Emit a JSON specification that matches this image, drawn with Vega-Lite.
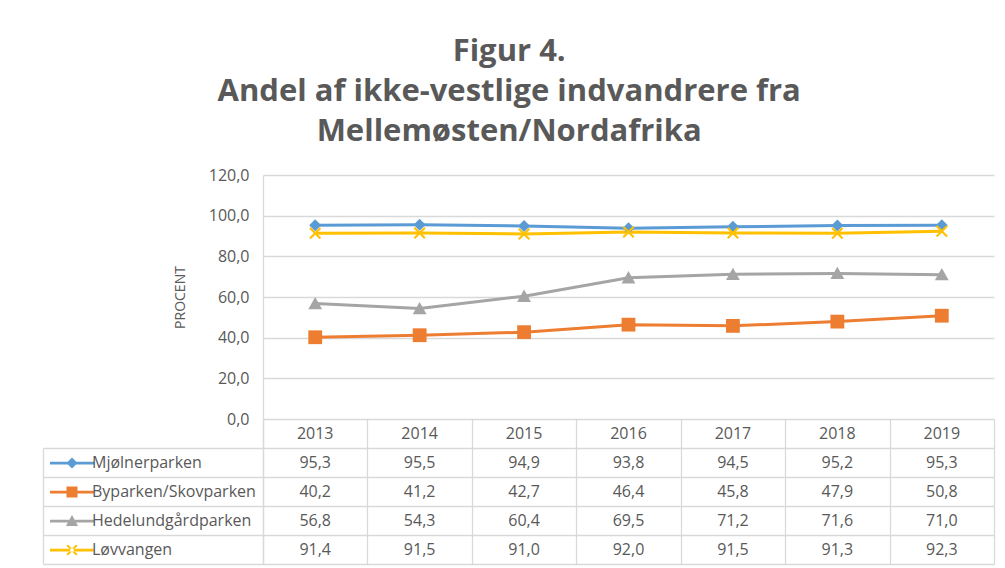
{
  "$schema": "https://vega.github.io/schema/vega-lite/v6.json",
  "background": "white",
  "padding": {"left": 42, "top": 36, "right": 12, "bottom": 5},
  "title": {
    "text": ["Figur 4.", "Andel af ikke-vestlige indvandrere fra", "Mellemøsten/Nordafrika"],
    "font": "Open Sans",
    "fontSize": 31,
    "fontWeight": "bold",
    "color": "#595959",
    "lineHeight": 40,
    "anchor": "middle",
    "frame": "bounds",
    "offset": 19,
    "dx": -9
  },
  "datasets": {
    "rates": [
      {"series": "Mjølnerparken", "year": "2013", "value": 95.3},
      {"series": "Mjølnerparken", "year": "2014", "value": 95.5},
      {"series": "Mjølnerparken", "year": "2015", "value": 94.9},
      {"series": "Mjølnerparken", "year": "2016", "value": 93.8},
      {"series": "Mjølnerparken", "year": "2017", "value": 94.5},
      {"series": "Mjølnerparken", "year": "2018", "value": 95.2},
      {"series": "Mjølnerparken", "year": "2019", "value": 95.3},
      {"series": "Byparken/Skovparken", "year": "2013", "value": 40.2},
      {"series": "Byparken/Skovparken", "year": "2014", "value": 41.2},
      {"series": "Byparken/Skovparken", "year": "2015", "value": 42.7},
      {"series": "Byparken/Skovparken", "year": "2016", "value": 46.4},
      {"series": "Byparken/Skovparken", "year": "2017", "value": 45.8},
      {"series": "Byparken/Skovparken", "year": "2018", "value": 47.9},
      {"series": "Byparken/Skovparken", "year": "2019", "value": 50.8},
      {"series": "Hedelundgårdparken", "year": "2013", "value": 56.8},
      {"series": "Hedelundgårdparken", "year": "2014", "value": 54.3},
      {"series": "Hedelundgårdparken", "year": "2015", "value": 60.4},
      {"series": "Hedelundgårdparken", "year": "2016", "value": 69.5},
      {"series": "Hedelundgårdparken", "year": "2017", "value": 71.2},
      {"series": "Hedelundgårdparken", "year": "2018", "value": 71.6},
      {"series": "Hedelundgårdparken", "year": "2019", "value": 71.0},
      {"series": "Løvvangen", "year": "2013", "value": 91.4},
      {"series": "Løvvangen", "year": "2014", "value": 91.5},
      {"series": "Løvvangen", "year": "2015", "value": 91.0},
      {"series": "Løvvangen", "year": "2016", "value": 92.0},
      {"series": "Løvvangen", "year": "2017", "value": 91.5},
      {"series": "Løvvangen", "year": "2018", "value": 91.3},
      {"series": "Løvvangen", "year": "2019", "value": 92.3}
    ]
  },
  "spacing": 0,
  "bounds": "flush",
  "resolve": {"scale": {"x": "independent", "y": "independent", "color": "independent", "shape": "independent"}},
  "vconcat": [
    {
      "width": 731,
      "height": 244,
      "data": {"name": "rates"},
      "encoding": {
        "x": {"field": "year", "type": "ordinal", "axis": null},
        "y": {
          "field": "value",
          "type": "quantitative",
          "scale": {"domain": [0, 120]},
          "axis": {
            "values": [0, 20, 40, 60, 80, 100, 120],
            "format": ".1f",
            "title": "PROCENT",
            "titleFontSize": 14,
            "titleFontWeight": "normal",
            "titleColor": "#595959",
            "titlePadding": 21,
            "labelFontSize": 16,
            "labelColor": "#595959",
            "labelPadding": 14,
            "ticks": false,
            "grid": true,
            "gridColor": "#d9d9d9",
            "gridWidth": 1.3,
            "domain": true,
            "domainColor": "#d9d9d9",
            "domainWidth": 1.3
          }
        },
        "color": {
          "field": "series",
          "type": "nominal",
          "scale": {
            "domain": ["Mjølnerparken", "Byparken/Skovparken", "Hedelundgårdparken", "Løvvangen"],
            "range": ["#5b9bd5", "#ed7d31", "#a5a5a5", "#ffc000"]
          },
          "legend": null
        }
      },
      "layer": [
        {"mark": {"type": "line", "strokeWidth": 3}},
        {
          "mark": {"type": "point", "filled": true, "size": 144, "opacity": 1},
          "encoding": {
            "shape": {
              "field": "series",
              "type": "nominal",
              "scale": {
                "domain": ["Mjølnerparken", "Byparken/Skovparken", "Hedelundgårdparken", "Løvvangen"],
                "range": [
                  "M0,-1L1,0L0,1L-1,0Z",
                  "M-1.15,-1.15H1.15V1.15H-1.15Z",
                  "M0,-1.1L1.15,0.95H-1.15Z",
                  "M-1,-0.75L-0.25,0L-1,0.75L-0.75,1L0,0.25L0.75,1L1,0.75L0.25,0L1,-0.75L0.75,-1L0,-0.25L-0.75,-1Z"
                ]
              },
              "legend": null
            }
          }
        }
      ]
    },
    {
      "width": 731,
      "height": 145,
      "data": {"name": "rates"},
      "resolve": {"axis": {"y": "independent"}},
      "layer": [
        {
          "transform": [{"filter": "datum.series === 'Mjølnerparken'"}],
          "mark": {"type": "text", "fontSize": 16, "color": "#595959"},
          "encoding": {
            "x": {
              "field": "year",
              "type": "ordinal",
              "scale": {"type": "band", "paddingInner": 0, "paddingOuter": 0},
              "axis": {"grid": true, "tickBand": "extent", "labels": false, "ticks": false, "domain": false, "title": null, "gridColor": "#d9d9d9", "gridWidth": 1.3}
            },
            "y": {
              "datum": "hdr",
              "type": "nominal",
              "scale": {
                "type": "band",
                "domain": ["hdr", "Mjølnerparken", "Byparken/Skovparken", "Hedelundgårdparken", "Løvvangen"],
                "paddingInner": 0,
                "paddingOuter": 0
              },
              "axis": {
                "values": ["Mjølnerparken", "Byparken/Skovparken", "Hedelundgårdparken", "Løvvangen"],
                "grid": true,
                "gridColor": "#d9d9d9",
                "gridWidth": 1.3,
                "tickBand": "extent",
                "ticks": true,
                "tickSize": 220,
                "tickWidth": 1.3,
                "tickColor": "#d9d9d9",
                "labels": false,
                "domain": true,
                "domainColor": "#d9d9d9",
                "domainWidth": 1.3,
                "title": null
              }
            },
            "text": {"field": "year", "type": "nominal"}
          }
        },
        {
          "mark": {"type": "text", "fontSize": 16, "color": "#595959"},
          "encoding": {
            "x": {"field": "year", "type": "ordinal"},
            "y": {
              "field": "series",
              "type": "nominal",
              "axis": {
                "orient": "left",
                "offset": 220,
                "labels": false,
                "ticks": false,
                "grid": false,
                "domain": true,
                "domainColor": "#d9d9d9",
                "domainWidth": 1.3,
                "domainDash": [0, 29, 150],
                "title": null
              }
            },
            "text": {"field": "value", "type": "quantitative", "format": ".1f"}
          }
        },
        {
          "mark": {"type": "point", "filled": true, "opacity": 0},
          "encoding": {
            "x": {"field": "year", "type": "ordinal"},
            "y": {"field": "series", "type": "nominal", "axis": null},
            "color": {
              "field": "series",
              "type": "nominal",
              "scale": {
                "domain": ["Mjølnerparken", "Byparken/Skovparken", "Hedelundgårdparken", "Løvvangen"],
                "range": ["#5b9bd5", "#ed7d31", "#a5a5a5", "#ffc000"]
              },
              "legend": {
                "orient": "none", "legendX": -199, "legendY": 36, "title": null,
                "labelFontSize": 16, "labelColor": "#595959", "labelOffset": 12, "labelLimit": 300,
                "symbolSize": 121, "symbolOpacity": 1, "symbolStrokeWidth": 0,
                "rowPadding": 13, "padding": 0
              }
            },
            "shape": {
              "field": "series",
              "type": "nominal",
              "scale": {
                "domain": ["Mjølnerparken", "Byparken/Skovparken", "Hedelundgårdparken", "Løvvangen"],
                "range": [
                  "M-4,-0.25H4V0.25H-4Z M0,-1L1,0L0,1L-1,0Z",
                  "M-4,-0.25H4V0.25H-4Z M-1,-1H1V1H-1Z",
                  "M-4,-0.25H4V0.25H-4Z M0,-1.1L1.1,0.9H-1.1Z",
                  "M-4,-0.25H4V0.25H-4Z M-1,-0.75L-0.25,0L-1,0.75L-0.75,1L0,0.25L0.75,1L1,0.75L0.25,0L1,-0.75L0.75,-1L0,-0.25L-0.75,-1Z"
                ]
              },
              "legend": {
                "orient": "none", "legendX": -199, "legendY": 36, "title": null,
                "labelFontSize": 16, "labelColor": "#595959", "labelOffset": 12, "labelLimit": 300,
                "symbolSize": 121, "symbolOpacity": 1, "symbolStrokeWidth": 0,
                "rowPadding": 13, "padding": 0
              }
            }
          }
        }
      ]
    }
  ],
  "config": {
    "font": "Open Sans",
    "view": {"stroke": null},
    "locale": {"number": {"decimal": ",", "thousands": ".", "grouping": [3], "currency": ["", " kr."]}}
  }
}
